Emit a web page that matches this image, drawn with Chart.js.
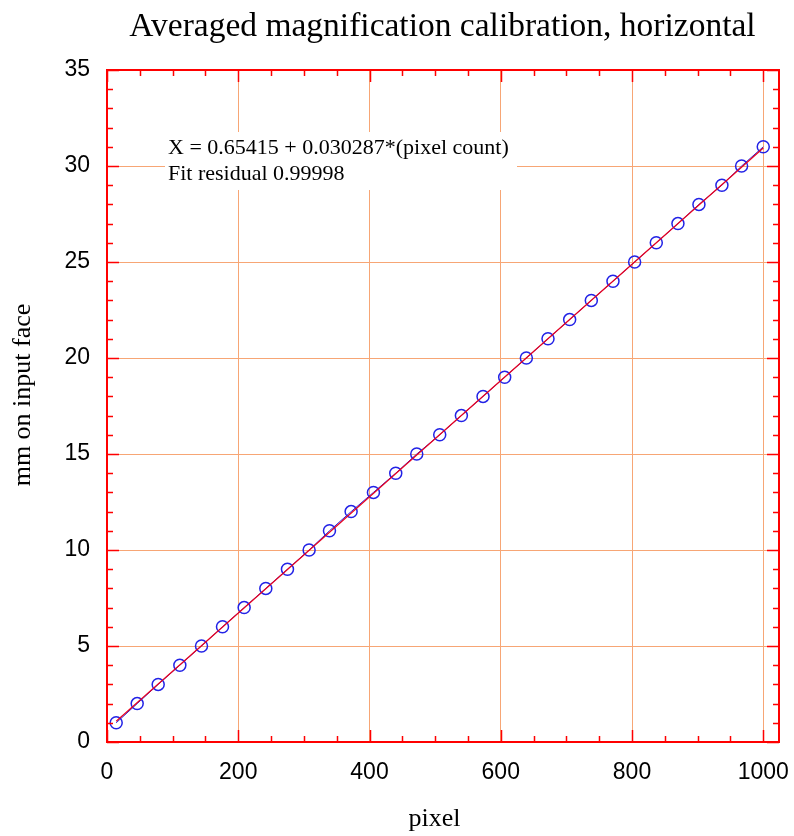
<!DOCTYPE html>
<html>
<head>
<meta charset="utf-8">
<title>Averaged magnification calibration, horizontal</title>
<script src="https://cdn.jsdelivr.net/npm/chart.js@4/dist/chart.umd.min.js"></script>
<style>
  html, body { margin: 0; padding: 0; background: #ffffff; }
  #wrap { width: 794px; height: 836px; }
</style>
</head>
<body>
<div id="wrap"><canvas id="chart" width="794" height="836"></canvas></div>
<script>
// Calibration measurements: detector pixel position vs. millimetres on the input face
const pixelCounts = [14, 46, 78, 111, 144, 176, 209, 242, 275, 308, 339, 372, 406, 440, 472,
                     507, 540, 573, 606, 639, 672, 705, 738, 771, 804, 837, 870, 902, 937, 967, 1000];
const mmValues = [1, 2, 3, 4, 5, 6, 7, 8, 9, 10, 11, 12, 13, 14, 15,
                  16, 17, 18, 19, 20, 21, 22, 23, 24, 25, 26, 27, 28, 29, 30, 31];

// Linear fit coefficients (as printed in the annotation)
const fitIntercept = 0.65415;
const fitSlope = 0.030287;
const fitLabel = ['X = 0.65415 + 0.030287*(pixel count)', 'Fit residual 0.99998'];

// Axis ranges and tick labels
const xRange = [0, 1024];
const yRange = [0, 35];
const xMajorTicks = [0, 200, 400, 600, 800, 1000];
const yMajorTicks = [0, 5, 10, 15, 20, 25, 30, 35];
const xMinorStep = 50;
const yMinorStep = 1;

const titleText = 'Averaged magnification calibration, horizontal';
const xTitle = 'pixel';
const yTitle = 'mm on input face';

const SERIF = '"Liberation Serif", "Times New Roman", Times, serif';
const SANS = '"Liberation Sans", Arial, Helvetica, sans-serif';
const FRAME_RED = '#ff0000';
const GRID_ORANGE = '#f7a675';

const dataPoints = pixelCounts.map((p, i) => ({ x: p, y: mmValues[i] }));
const fitEnds = [pixelCounts[0], pixelCounts[pixelCounts.length - 1]];
const fitPoints = fitEnds.map(p => ({ x: p, y: fitIntercept + fitSlope * p }));

// Annotation box behind the data, over the grid
const annotationPlugin = {
  id: 'fitAnnotation',
  beforeDatasetsDraw(chart) {
    const ctx = chart.ctx;
    ctx.save();
    ctx.fillStyle = '#ffffff';
    ctx.fillRect(165, 132, 352, 58);
    ctx.fillStyle = '#000000';
    ctx.font = '22px ' + SERIF;
    ctx.textAlign = 'left';
    ctx.textBaseline = 'alphabetic';
    ctx.fillText(fitLabel[0], 168, 154);
    ctx.fillText(fitLabel[1], 168, 180);
    ctx.restore();
  }
};

// Frame, inward major/minor ticks on all four sides, and titles
const framePlugin = {
  id: 'frameAndTitles',
  afterDraw(chart) {
    const ctx = chart.ctx;
    const a = chart.chartArea;
    const xs = chart.scales.x, ys = chart.scales.y;
    ctx.save();
    ctx.strokeStyle = FRAME_RED;
    ctx.lineWidth = 1.5;
    ctx.beginPath();
    for (let v = xRange[0]; v <= xRange[1]; v += xMinorStep) {
      const px = Math.round(xs.getPixelForValue(v)) + 0.5;
      const len = xMajorTicks.includes(v) ? 12 : 6;
      ctx.moveTo(px, a.bottom); ctx.lineTo(px, a.bottom - len);
      ctx.moveTo(px, a.top); ctx.lineTo(px, a.top + len);
    }
    for (let v = yRange[0]; v <= yRange[1]; v += yMinorStep) {
      const py = Math.round(ys.getPixelForValue(v)) + 0.5;
      const len = yMajorTicks.includes(v) ? 12 : 6;
      ctx.moveTo(a.left, py); ctx.lineTo(a.left + len, py);
      ctx.moveTo(a.right, py); ctx.lineTo(a.right - len, py);
    }
    ctx.stroke();
    ctx.lineWidth = 2;
    ctx.strokeRect(a.left, a.top, a.right - a.left, a.bottom - a.top);

    ctx.fillStyle = '#000000';
    ctx.textAlign = 'center';
    ctx.textBaseline = 'alphabetic';
    ctx.font = '33.5px ' + SERIF;
    ctx.fillText(titleText, 442.5, 36);

    ctx.font = '26px ' + SERIF;
    ctx.fillText(xTitle, 434.5, 826);

    ctx.translate(30, 395);
    ctx.rotate(-Math.PI / 2);
    ctx.fillText(yTitle, 0, 0);
    ctx.restore();
  }
};

const plainNumber = v => String(v);

new Chart(document.getElementById('chart'), {
  type: 'scatter',
  data: {
    datasets: [
      {
        label: 'fit',
        data: fitPoints,
        showLine: true,
        borderColor: '#e8001c',
        borderWidth: 1.2,
        pointRadius: 0,
        order: 1
      },
      {
        label: 'measured',
        data: dataPoints,
        showLine: true,
        borderColor: '#2020e0',
        borderWidth: 1,
        pointRadius: 6,
        pointHoverRadius: 6,
        pointBorderWidth: 1.5,
        pointBorderColor: '#2222e6',
        pointBackgroundColor: 'rgba(0,0,0,0)',
        order: 2
      }
    ]
  },
  options: {
    responsive: false,
    animation: false,
    events: [],
    layout: { padding: { left: 0, top: 70, right: 15, bottom: 0 } },
    plugins: {
      legend: { display: false },
      title: { display: false },
      tooltip: { enabled: false }
    },
    scales: {
      x: {
        type: 'linear',
        min: xRange[0],
        max: xRange[1],
        afterBuildTicks(scale) { scale.ticks = xMajorTicks.map(v => ({ value: v })); },
        afterFit(scale) {
          scale.height = 94;
          scale.paddingLeft = 0;
          scale.paddingRight = 0;
        },
        grid: { color: GRID_ORANGE, lineWidth: 1, drawTicks: false },
        border: { display: false },
        ticks: {
          color: '#000000',
          font: { family: SANS, size: 23 },
          padding: 17,
          maxRotation: 0,
          autoSkip: false,
          callback: plainNumber
        }
      },
      y: {
        type: 'linear',
        min: yRange[0],
        max: yRange[1],
        afterBuildTicks(scale) { scale.ticks = yMajorTicks.map(v => ({ value: v })); },
        afterFit(scale) {
          scale.width = 107;
          scale.paddingTop = 0;
          scale.paddingBottom = 0;
        },
        grid: { color: GRID_ORANGE, lineWidth: 1, drawTicks: false },
        border: { display: false },
        ticks: {
          color: '#000000',
          font: { family: SANS, size: 23 },
          padding: 17,
          autoSkip: false,
          callback: plainNumber
        }
      }
    }
  },
  plugins: [annotationPlugin, framePlugin]
});
</script>
</body>
</html>
